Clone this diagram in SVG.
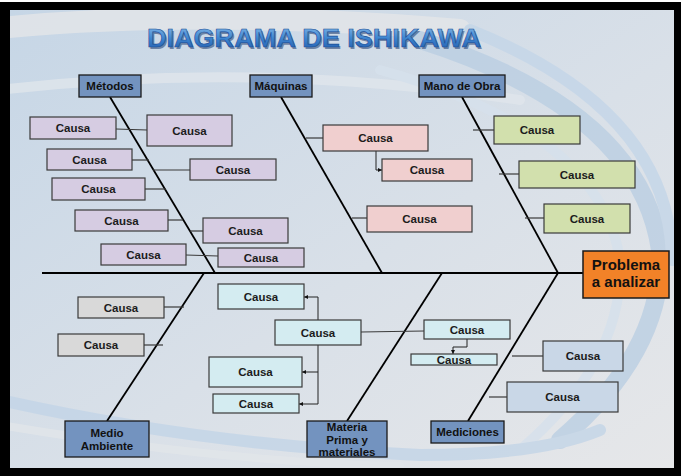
<svg xmlns="http://www.w3.org/2000/svg" width="681" height="476" viewBox="0 0 681 476">
<defs>
<linearGradient id="bg" x1="0" y1="0" x2="1" y2="1">
<stop offset="0" stop-color="#C6D6E6"/>
<stop offset="0.55" stop-color="#D9E0E8"/>
<stop offset="1" stop-color="#E6E7E9"/>
</linearGradient>
<linearGradient id="tg" x1="0" y1="0" x2="0" y2="1">
<stop offset="0" stop-color="#8FC0EC"/>
<stop offset="0.5" stop-color="#3F86D0"/>
<stop offset="1" stop-color="#1D56A8"/>
</linearGradient>
<clipPath id="inner"><rect x="10" y="10" width="664" height="458"/></clipPath>
<marker id="ar" viewBox="0 0 6 6" refX="6" refY="3" markerWidth="4" markerHeight="4" markerUnits="userSpaceOnUse" orient="auto">
<path d="M0,0 L6,3 L0,6 z" fill="#111"/>
</marker>
<style>
.cat{fill:#7393BF;stroke:#1a1a1a;stroke-width:1.3}
.ct{font-family:"Liberation Sans",Arial,sans-serif;font-weight:bold;font-size:11.5px;fill:#111;text-anchor:middle}
.cz{font-family:"Liberation Sans",Arial,sans-serif;font-weight:bold;font-size:11.5px;fill:#1c1c1c;text-anchor:middle}
.m{fill:#D6CCE2;stroke:#3a3a3a;stroke-width:1.2}
.q{fill:#F0CFCF;stroke:#3a3a3a;stroke-width:1.2}
.o{fill:#D2E0AD;stroke:#3a3a3a;stroke-width:1.2}
.e{fill:#D9D9D9;stroke:#3a3a3a;stroke-width:1.2}
.p{fill:#D4ECF1;stroke:#3a3a3a;stroke-width:1.2}
.d{fill:#C9D7E7;stroke:#3a3a3a;stroke-width:1.2}
.sp{stroke:#000;stroke-width:1.8;fill:none}
.cn{stroke:#3a3a3a;stroke-width:1.2;fill:none}
.ca{stroke:#222;stroke-width:1;fill:none;marker-end:url(#ar)}
.sw{fill:none;stroke-linecap:round}
</style>
</defs>
<rect x="0" y="2" width="681" height="474" fill="#000"/>
<rect x="10" y="10" width="664" height="458" fill="url(#bg)"/>
<g id="background" opacity="0.8" clip-path="url(#inner)">
<path class="sw" d="M0,28 Q200,8 460,30" stroke="#E4E6E9" stroke-width="22"/>
<path class="sw" d="M0,90 Q250,60 520,100" stroke="#E0E6EC" stroke-width="10"/>
<path class="sw" d="M420,40 Q640,110 660,250 Q665,350 560,440" stroke="#BBCFE3" stroke-width="18"/>
<path class="sw" d="M470,30 Q670,110 672,260" stroke="#C4D6E8" stroke-width="12"/>
<path class="sw" d="M380,70 Q600,130 620,260 Q625,360 520,450" stroke="#D6E1EC" stroke-width="10"/>
<path class="sw" d="M0,400 Q200,445 420,455 Q540,455 600,430" stroke="#C3D5E7" stroke-width="12"/>
<path class="sw" d="M0,425 Q220,462 400,466" stroke="#E2E6EA" stroke-width="8"/>
</g>
<text x="314" y="47" font-family="'Liberation Sans',Arial,sans-serif" font-weight="bold" font-size="26" text-anchor="middle" textLength="334" lengthAdjust="spacingAndGlyphs" fill="#0F2F66" opacity="0.5" transform="translate(1.5,1.5)">DIAGRAMA DE ISHIKAWA</text>
<text x="314" y="47" font-family="'Liberation Sans',Arial,sans-serif" font-weight="bold" font-size="26" text-anchor="middle" textLength="334" lengthAdjust="spacingAndGlyphs" fill="url(#tg)" stroke="#1B4C96" stroke-width="0.6">DIAGRAMA DE ISHIKAWA</text>
<g id="connectors">
<line class="sp" x1="42" y1="273" x2="583" y2="273"/>
<line class="sp" x1="110" y1="97" x2="215" y2="273"/>
<line class="sp" x1="281" y1="97" x2="382" y2="273"/>
<line class="sp" x1="462" y1="97" x2="558" y2="273"/>
<line class="sp" x1="204" y1="273" x2="107" y2="421"/>
<line class="sp" x1="442" y1="273" x2="347" y2="421"/>
<line class="sp" x1="558" y1="273" x2="468" y2="421"/>
<line class="cn" x1="116" y1="129" x2="147" y2="130"/>
<line class="cn" x1="132" y1="160" x2="149" y2="160"/>
<line class="cn" x1="153" y1="170" x2="190" y2="170"/>
<line class="cn" x1="145" y1="189" x2="166" y2="189"/>
<line class="cn" x1="168" y1="220" x2="183" y2="220"/>
<line class="cn" x1="190" y1="231" x2="203" y2="231"/>
<line class="cn" x1="186" y1="255" x2="218" y2="256"/>
<line class="cn" x1="306" y1="138" x2="323" y2="138"/>
<path class="ca" d="M376,151 V170 H382"/>
<line class="cn" x1="352" y1="218" x2="367" y2="218"/>
<line class="cn" x1="473" y1="130" x2="494" y2="130"/>
<line class="cn" x1="499" y1="174" x2="519" y2="174"/>
<line class="cn" x1="525" y1="218" x2="544" y2="218"/>
<line class="cn" x1="164" y1="307" x2="184" y2="307"/>
<line class="cn" x1="144" y1="345" x2="163" y2="345"/>
<path class="ca" d="M318,320 V297 H304"/>
<path class="ca" d="M318,345 V404 H299"/>
<path class="ca" d="M318,372 H302"/>
<line class="cn" x1="361" y1="332" x2="424" y2="331"/>
<path class="ca" d="M467,339 V347 H453 V354"/>
<line class="cn" x1="512" y1="356" x2="543" y2="356"/>
<line class="cn" x1="489" y1="397" x2="507" y2="397"/>
</g>
<g id="metodos"><rect class="cat" x="79" y="75" width="62" height="22"/><text class="ct" x="110" y="90">Métodos</text></g>
<g id="maquinas"><rect class="cat" x="250" y="75" width="62" height="22"/><text class="ct" x="281" y="90">Máquinas</text></g>
<g id="mano-de-obra"><rect class="cat" x="419" y="75" width="86" height="22"/><text class="ct" x="462" y="90">Mano de Obra</text></g>
<g id="medio-ambiente"><rect class="cat" x="65" y="421" width="84" height="36"/><text class="ct" x="107" y="437">Medio</text><text class="ct" x="107" y="450">Ambiente</text></g>
<g id="materia-prima"><rect class="cat" x="307" y="421" width="80" height="36"/><text class="ct" x="347" y="431">Materia</text><text class="ct" x="347" y="443.5">Prima y</text><text class="ct" x="347" y="456">materiales</text></g>
<g id="mediciones"><rect class="cat" x="431" y="421" width="73" height="22"/><text class="ct" x="467.5" y="436">Mediciones</text></g>
<g id="problema"><rect x="583" y="251" width="86" height="47" fill="#F28228" stroke="#1a1a1a" stroke-width="1.5"/><text x="626" y="270" font-family="'Liberation Sans',Arial,sans-serif" font-weight="bold" font-size="15" text-anchor="middle" fill="#111">Problema</text><text x="626" y="287" font-family="'Liberation Sans',Arial,sans-serif" font-weight="bold" font-size="15" text-anchor="middle" fill="#111">a analizar</text></g>
<g id="m1"><rect class="m" x="30" y="117" width="86" height="22"/><text class="cz" x="73" y="132">Causa</text></g>
<g id="m2"><rect class="m" x="147" y="115" width="85" height="31"/><text class="cz" x="189.5" y="134.5">Causa</text></g>
<g id="m3"><rect class="m" x="47" y="149" width="85" height="21"/><text class="cz" x="89.5" y="163.5">Causa</text></g>
<g id="m4"><rect class="m" x="190" y="159" width="86" height="21"/><text class="cz" x="233" y="173.5">Causa</text></g>
<g id="m5"><rect class="m" x="52" y="178" width="93" height="22"/><text class="cz" x="98.5" y="193">Causa</text></g>
<g id="m6"><rect class="m" x="75" y="210" width="93" height="21"/><text class="cz" x="121.5" y="224.5">Causa</text></g>
<g id="m7"><rect class="m" x="203" y="218" width="85" height="25"/><text class="cz" x="245.5" y="234.5">Causa</text></g>
<g id="m8"><rect class="m" x="101" y="244" width="85" height="21"/><text class="cz" x="143.5" y="258.5">Causa</text></g>
<g id="m9"><rect class="m" x="218" y="248" width="86" height="19"/><text class="cz" x="261" y="261.5">Causa</text></g>
<g id="q1"><rect class="q" x="323" y="125" width="105" height="26"/><text class="cz" x="375.5" y="142">Causa</text></g>
<g id="q2"><rect class="q" x="382" y="159" width="90" height="22"/><text class="cz" x="427" y="174">Causa</text></g>
<g id="q3"><rect class="q" x="367" y="206" width="105" height="26"/><text class="cz" x="419.5" y="223">Causa</text></g>
<g id="o1"><rect class="o" x="494" y="116" width="86" height="28"/><text class="cz" x="537" y="134">Causa</text></g>
<g id="o2"><rect class="o" x="519" y="161" width="116" height="27"/><text class="cz" x="577" y="178.5">Causa</text></g>
<g id="o3"><rect class="o" x="544" y="204" width="86" height="29"/><text class="cz" x="587" y="222.5">Causa</text></g>
<g id="e1"><rect class="e" x="78" y="297" width="86" height="21"/><text class="cz" x="121" y="311.5">Causa</text></g>
<g id="e2"><rect class="e" x="58" y="334" width="86" height="22"/><text class="cz" x="101" y="349">Causa</text></g>
<g id="p1"><rect class="p" x="218" y="284" width="86" height="25"/><text class="cz" x="261" y="300.5">Causa</text></g>
<g id="p2"><rect class="p" x="275" y="320" width="86" height="25"/><text class="cz" x="318" y="336.5">Causa</text></g>
<g id="p3"><rect class="p" x="209" y="357" width="93" height="30"/><text class="cz" x="255.5" y="376">Causa</text></g>
<g id="p4"><rect class="p" x="213" y="394" width="86" height="19"/><text class="cz" x="256" y="407.5">Causa</text></g>
<g id="p5"><rect class="p" x="424" y="320" width="86" height="19"/><text class="cz" x="467" y="333.5">Causa</text></g>
<g id="p6"><rect class="p" x="411" y="354" width="86" height="11"/><text class="cz" x="454" y="364">Causa</text></g>
<g id="d1"><rect class="d" x="543" y="341" width="80" height="30"/><text class="cz" x="583" y="360">Causa</text></g>
<g id="d2"><rect class="d" x="507" y="382" width="111" height="30"/><text class="cz" x="562.5" y="401">Causa</text></g>
</svg>
